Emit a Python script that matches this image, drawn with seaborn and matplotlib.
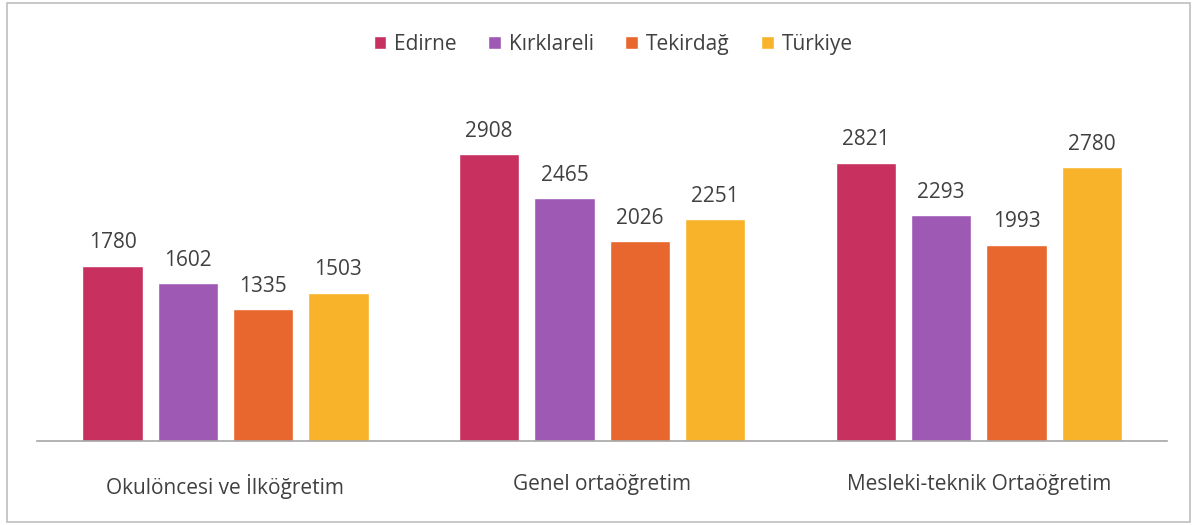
import matplotlib
matplotlib.use('Agg')
import matplotlib.pyplot as plt
import pandas as pd
import seaborn as sns

categories = ['Okulöncesi ve İlköğretim', 'Genel ortaöğretim', 'Mesleki-teknik Ortaöğretim']
regions = ['Edirne', 'Kırklareli', 'Tekirdağ', 'Türkiye']
edirne = [1780, 2908, 2821]
kirklareli = [1602, 2465, 2293]
tekirdag = [1335, 2026, 1993]
turkiye = [1503, 2251, 2780]
colors = ['#C8305F', '#9E59B4', '#E8672E', '#F9B32A']

rows = []
for reg, vals in zip(regions, [edirne, kirklareli, tekirdag, turkiye]):
    for cat, v in zip(categories, vals):
        rows.append({'kategori': cat, 'bolge': reg, 'deger': v})
df = pd.DataFrame(rows)

sns.set_style('white')
plt.rcParams['font.family'] = ['Open Sans', 'DejaVu Sans']

fig = plt.figure(figsize=(11.97, 5.25), dpi=100)
ax = fig.add_axes([0.031, 0.16, 0.944, 0.657])

sns.barplot(data=df, x='kategori', y='deger', hue='bolge', order=categories,
            hue_order=regions, palette=colors, width=0.8, gap=0.2,
            saturation=1, ax=ax, legend=True)

for cont in ax.containers:
    ax.bar_label(cont, fmt='%d', padding=9, fontsize=15, color='#404040')

ax.set_ylim(0, 3500)
ax.set_xlim(-0.5, 2.5)
ax.set_xlabel('')
ax.set_ylabel('')
ax.set_yticks([])
ax.tick_params(axis='x', length=0, pad=24, labelsize=15, labelcolor='#404040')
for s in ['top', 'right', 'left']:
    ax.spines[s].set_visible(False)
ax.spines['bottom'].set_color('#A6A6A6')
ax.spines['bottom'].set_linewidth(1.2)

ax.legend(loc='center', bbox_to_anchor=(0.51, 1.15), ncol=4, frameon=False,
          fontsize=15, handlelength=0.6, handleheight=0.6, handletextpad=0.4,
          columnspacing=1.5, labelcolor='#404040')

fig.patches.append(plt.Rectangle((0.006, 0.006), 0.988, 0.988, transform=fig.transFigure,
                                 fill=False, edgecolor='#BFBFBF', linewidth=1.2))

fig.savefig('out.png', dpi=100)
